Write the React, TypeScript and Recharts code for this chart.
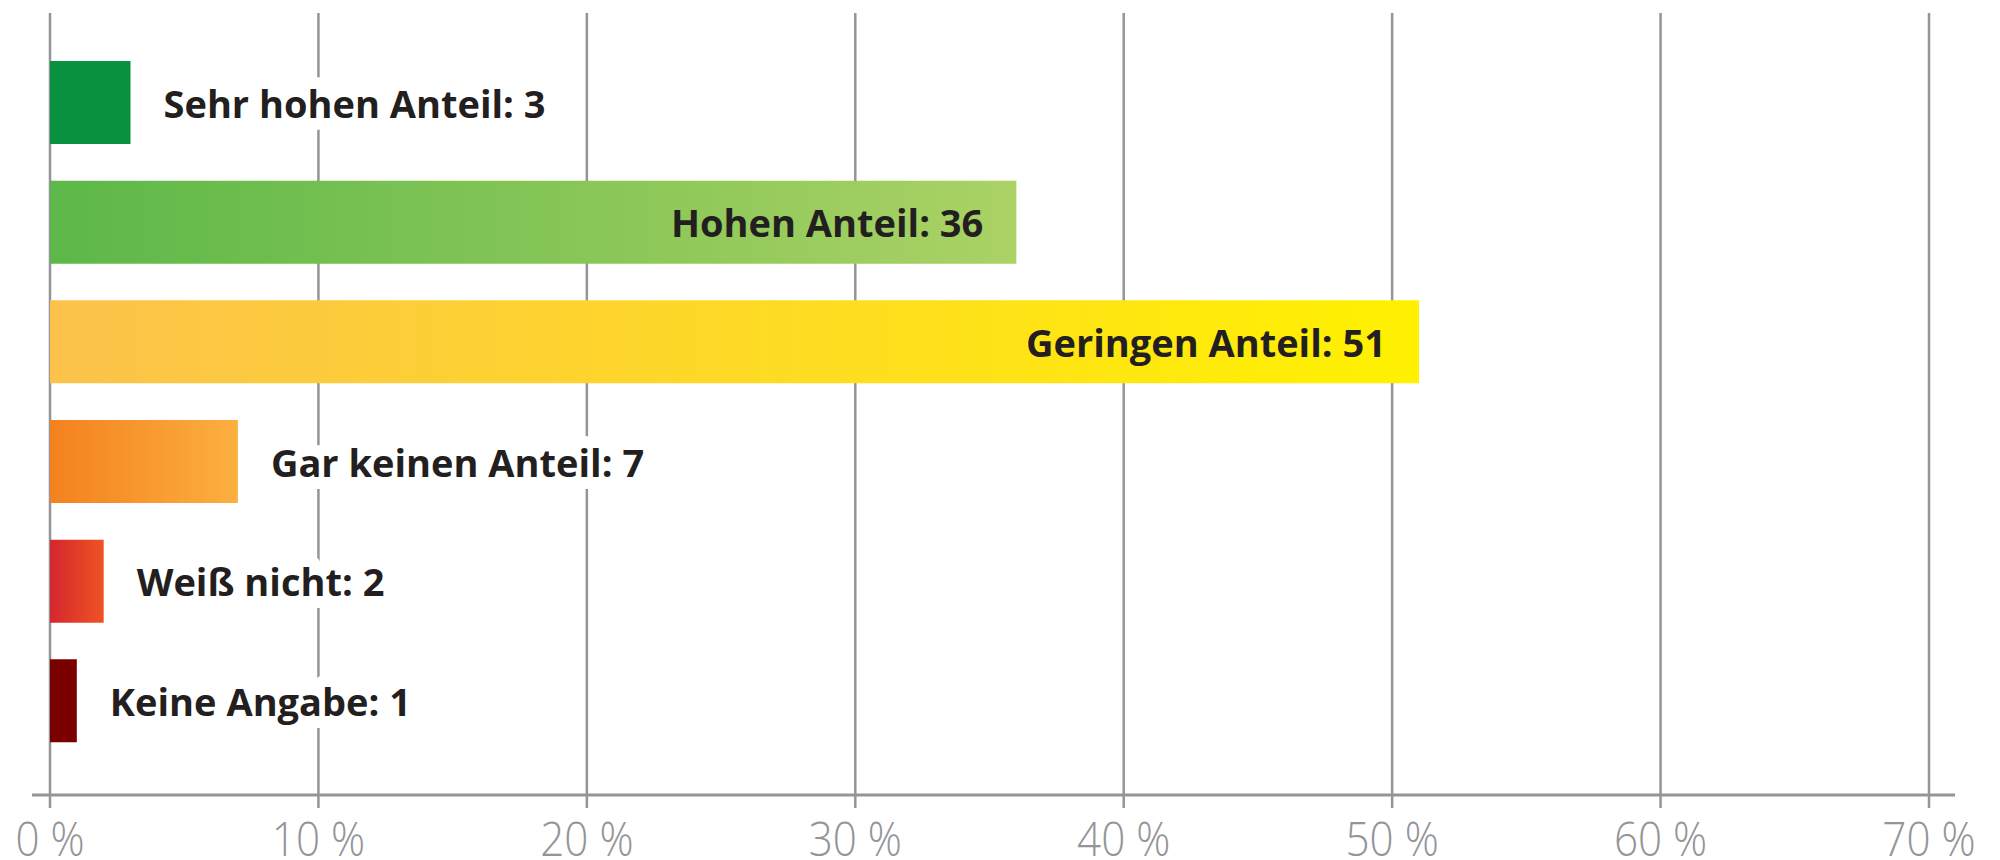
import React from "react";
import { BarChart, Bar, XAxis, YAxis, CartesianGrid, Cell, LabelList } from "recharts";

const categories = [
  "Sehr hohen Anteil",
  "Hohen Anteil",
  "Geringen Anteil",
  "Gar keinen Anteil",
  "Weiß nicht",
  "Keine Angabe",
];
const shares = [3, 36, 51, 7, 2, 1];
const xTicks = [0, 10, 20, 30, 40, 50, 60, 70];

// left -> right gradient stops per bar
const barFrom = ["#0a913f", "#5cb848", "#fcc24b", "#f4811f", "#d5262f", "#7a0000"];
const barTo = ["#0a913f", "#abd264", "#fff100", "#fbb03f", "#ef5323", "#7a0000"];

const data = categories.map((name, i) => ({ name, share: shares[i] }));

const GRAY = "#939598";
const INK = "#231f20";
const LABEL_FONT = "'Open Sans', 'Noto Sans', sans-serif";
const PAD = { left: 18, right: 26 };

const PercentTick = (props: any) => {
  const { x, y, payload } = props;
  return (
    <g transform={`translate(${x},${y + 46})`}>
      <text
        transform="scale(0.88,1)"
        textAnchor="middle"
        fill={GRAY}
        fontFamily={LABEL_FONT}
        fontWeight={300}
        fontSize={48}
      >
        {`${payload.value} %`}
      </text>
    </g>
  );
};

const BarLabel = (props: any) => {
  const vb = props.viewBox || props;
  const { x, y, width, height } = vb;
  const i = props.index;
  const text = `${categories[i]}: ${shares[i]}`;
  const end = x + width;
  const inside = shares[i] >= 30;
  const baseline = y + height / 2 + 15;
  if (inside) {
    return (
      <text x={end - 33} y={baseline} textAnchor="end" fill={INK} fontFamily={LABEL_FONT} fontWeight={700} fontSize={38}>
        {text}
      </text>
    );
  }
  return (
    <text
      x={end + 33}
      y={baseline}
      textAnchor="start"
      fill={INK}
      stroke="#ffffff"
      strokeWidth={24}
      strokeLinejoin="round"
      paintOrder="stroke"
      fontFamily={LABEL_FONT}
      fontWeight={700}
      fontSize={38}
    >
      {text}
    </text>
  );
};

// gridlines only at the percent ticks, not at the plot edges
const gridAtTicks = (p: any) => {
  const sc = p.xAxis && p.xAxis.scale;
  if (typeof sc === "function") return xTicks.map((t) => sc(t));
  const left = p.offset.left + PAD.left;
  const span = p.offset.width - PAD.left - PAD.right;
  return xTicks.map((t) => left + (t / 70) * span);
};

export default function App() {
  return (
    <div style={{ position: "absolute", left: 0, top: 0, width: 2000, height: 860, background: "#fff" }}>
      <BarChart
        width={2000}
        height={860}
        data={data}
        layout="vertical"
        margin={{ top: 13, right: 45, bottom: 5, left: 32 }}
      >
        <defs>
          {barFrom.map((c, i) => (
            <linearGradient key={i} id={`bar-grad-${i}`} x1="0" y1="0" x2="1" y2="0">
              <stop offset="0%" stopColor={c} />
              <stop offset="100%" stopColor={barTo[i]} />
            </linearGradient>
          ))}
        </defs>
        <CartesianGrid
          horizontal={false}
          stroke={GRAY}
          strokeWidth={2.5}
          verticalCoordinatesGenerator={gridAtTicks}
        />
        <XAxis
          xAxisId="top"
          orientation="top"
          type="number"
          domain={[0, 70]}
          height={0}
          tick={false}
          tickLine={false}
          axisLine={{ stroke: GRAY, strokeWidth: 3 }}
          padding={PAD}
        />
        <XAxis
          type="number"
          domain={[0, 70]}
          ticks={xTicks}
          interval={0}
          height={60}
          tickSize={13}
          tick={<PercentTick />}
          tickLine={{ stroke: GRAY, strokeWidth: 2.5 }}
          axisLine={{ stroke: GRAY, strokeWidth: 3 }}
          padding={PAD}
        />
        <YAxis type="category" dataKey="name" hide padding={{ top: 30, bottom: 34 }} />
        <Bar dataKey="share" barSize={83} isAnimationActive={false}>
          {data.map((d, i) => (
            <Cell key={d.name} fill={`url(#bar-grad-${i})`} />
          ))}
          <LabelList dataKey="share" content={<BarLabel />} />
        </Bar>
      </BarChart>
    </div>
  );
}
